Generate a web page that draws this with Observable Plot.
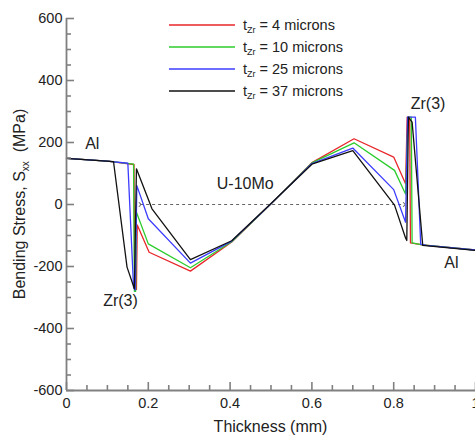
<!DOCTYPE html>
<html><head><meta charset="utf-8">
<script src="https://cdn.jsdelivr.net/npm/d3@7"></script>
<script src="https://cdn.jsdelivr.net/npm/@observablehq/plot@0.6"></script>
<style>
body{margin:0;background:#fff;}
#chart{position:relative;width:475px;height:438px;}
</style></head><body><div id="chart"></div>
<script>
// ---- data ----
const seriesNames = ["4", "10", "25", "37"];
const seriesColors = ["#e8262a", "#2ccc2c", "#3c3cff", "#111111"];

const t4 = [[0,149],[0.1,140],[0.165,129],[0.167,-274],[0.171,-274],[0.173,-66],[0.202,-154],[0.303,-215],[0.404,-121],[0.5,2],[0.6,135],[0.703,212],[0.8,153],[0.829,67],[0.833,282],[0.839,282],[0.841,-124],[0.87,-130],[1,-147]];
const t10 = [[0,149],[0.1,140],[0.164,130],[0.166,-280],[0.169,-280],[0.171,-25],[0.2,-127],[0.303,-204],[0.404,-120],[0.5,2],[0.6,134],[0.703,199],[0.802,110],[0.829,34],[0.835,282],[0.843,282],[0.845,-124],[0.87,-130],[1,-147]];
const t25 = [[0,149],[0.1,140],[0.15,133],[0.164,-268],[0.168,-276],[0.172,61],[0.2,-46],[0.303,-189],[0.404,-118],[0.5,2],[0.6,132],[0.7,182],[0.8,48],[0.829,-57],[0.834,282],[0.853,282],[0.866,-128],[0.88,-132],[1,-147]];
const t37 = [[0,149],[0.115,138],[0.148,-202],[0.166,-272],[0.171,115],[0.209,-14],[0.303,-178],[0.404,-117],[0.5,3],[0.6,130],[0.7,174],[0.802,-2],[0.829,-108],[0.832,-116],[0.836,282],[0.845,266],[0.871,-132],[1,-148]];
const seriesData = [t4, t10, t25, t37];

const xMajor = [0, 0.2, 0.4, 0.6, 0.8, 1];
const xMinor = [0.05,0.1,0.15,0.25,0.3,0.35,0.45,0.5,0.55,0.65,0.7,0.75,0.85,0.9,0.95];
const yMajor = [-600, -400, -200, 0, 200, 400, 600];
const yMinor = [-550,-500,-450,-350,-300,-250,-150,-100,-50,50,100,150,250,300,350,450,500,550];

const annText = ["Al", "Zr(3)", "U-10Mo", "Zr(3)", "Al"];
const annX = [0.063, 0.132, 0.437, 0.884, 0.941];
const annY = [197, -310, 68, 326, -187];

const dimLine = [{x1: 0.18, x2: 0.826, y: 0}];

// ---- build table ----
const rows = [];
seriesData.forEach((pts, i) => pts.forEach(([x, y]) => rows.push({x, y, s: seriesNames[i]})));
const ann = annText.map((t, i) => ({t, x: annX[i], y: annY[i]}));

const font = "'Liberation Sans', Arial, sans-serif";
const axisGray = "#808080";
const W = 475, H = 438, ML = 66, MR = 0, MT = 18, MB = 48;
const plotW = W - ML - MR, plotH = H - MT - MB;

const plot = Plot.plot({
  width: W, height: H,
  marginLeft: ML, marginRight: MR, marginTop: MT, marginBottom: MB,
  style: {fontFamily: font, fontSize: "14.5px", background: "#fff", color: "#222"},
  x: {domain: [0, 1]},
  y: {domain: [-600, 600]},
  color: {domain: seriesNames, range: seriesColors},
  marks: [
    Plot.link(dimLine, {x1: "x1", x2: "x2", y1: "y", y2: "y", stroke: "#666", strokeWidth: 1, strokeDasharray: "3,3", markerStart: "arrow", markerEnd: "arrow"}),
    Plot.line(rows, {x: "x", y: "y", z: "s", stroke: "s", strokeWidth: 1.3}),
    Plot.text(ann, {x: "x", y: "y", text: "t", fontSize: 16, fill: "#222"}),
    Plot.axisX(xMajor, {tickSize: 0, tickPadding: 7, tickFormat: d => String(d), label: null, color: "#222"}),
    Plot.axisY(yMajor, {tickSize: 0, tickPadding: 4, tickFormat: d => String(d), label: null, color: "#222"}),
    Plot.tickX(xMajor, {x: d => d, insetTop: plotH - 8, stroke: axisGray, strokeWidth: 1.6}),
    Plot.tickX(xMinor, {x: d => d, insetTop: plotH - 5, stroke: axisGray, strokeWidth: 1.6}),
    Plot.tickY(yMajor, {y: d => d, insetRight: plotW - 8, stroke: axisGray, strokeWidth: 1.6}),
    Plot.tickY(yMinor, {y: d => d, insetRight: plotW - 5, stroke: axisGray, strokeWidth: 1.6}),
    Plot.ruleX([0], {stroke: axisGray, strokeWidth: 1.8}),
    Plot.ruleY([-600], {stroke: axisGray, strokeWidth: 1.8})
  ]
});
document.getElementById("chart").appendChild(plot);

// ---- titles & legend ----
const svg = d3.select(plot);
const yl = svg.append("text").attr("transform", "translate(25,204) rotate(-90)")
  .attr("text-anchor", "middle").attr("font-size", 16).attr("fill", "#222").attr("font-family", font);
yl.append("tspan").text("Bending Stress, S");
yl.append("tspan").attr("font-size", 10).attr("dy", 4).text("xx");
yl.append("tspan").attr("dy", -4).text("\u00a0\u00a0(MPa)");

svg.append("text").attr("x", 270.5).attr("y", 432).attr("text-anchor", "middle")
  .attr("font-size", 16).attr("fill", "#222").attr("font-family", font).text("Thickness (mm)");

const lg = svg.append("g").attr("font-family", font).attr("font-size", 14.5).attr("fill", "#222").attr("text-anchor", "start");
seriesNames.forEach((n, i) => {
  const yy = 25 + i * 22;
  lg.append("line").attr("x1", 169).attr("x2", 235).attr("y1", yy).attr("y2", yy)
    .attr("stroke", seriesColors[i]).attr("stroke-width", 1.3);
  const t = lg.append("text").attr("x", 243).attr("y", yy + 5).attr("text-anchor", "start");
  t.append("tspan").text("t");
  t.append("tspan").attr("font-size", 9).attr("dy", 3).text("Zr");
  t.append("tspan").attr("dy", -3).text(" = " + n + " microns");
});
</script></body></html>
